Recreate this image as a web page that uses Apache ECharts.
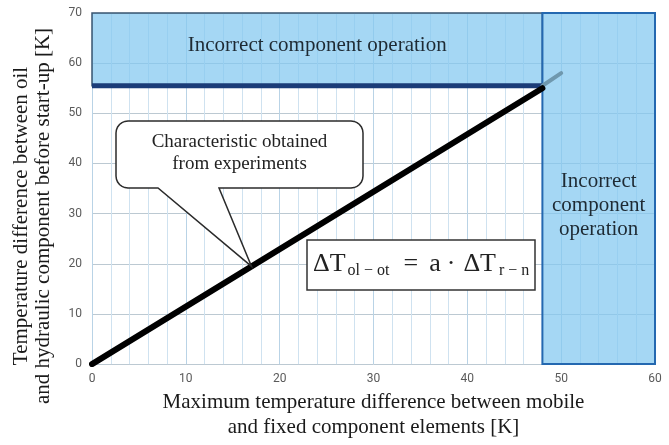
<!DOCTYPE html>
<html>
<head>
<meta charset="utf-8">
<script src="https://cdn.jsdelivr.net/npm/echarts@6/dist/echarts.min.js"></script>
<style>
html,body{margin:0;padding:0;background:#fff;}
#c{width:669px;height:445px;}
</style>
</head>
<body>
<div id="c"></div>
<script>
// ---- data ----
var xTicks = [0, 10, 20, 30, 40, 50, 60];
var yTicks = [0, 10, 20, 30, 40, 50, 60, 70];
var experimentLine = [[0, 0], [48, 55]];
var extensionLine = [[48, 55.5], [50, 58]];
var limitLine = [[0, 55.5], [48, 55.5]];
var zoneTop = [[0, 55.5], [48, 70]];
var zoneRight = [[48, 0], [60, 70]];
var zoneTopLabel = 'Incorrect component operation';
var zoneRightLabel = 'Incorrect\ncomponent\noperation';
var calloutText = 'Characteristic obtained\nfrom experiments';
var calloutPoint = [17, 17 * 55 / 48];
var xName = 'Maximum temperature difference between mobile\nand fixed component elements [K]';
var yName = 'Temperature difference between oil\nand hydraulic component before start-up [K]';

var serif = '"Liberation Serif", "Times New Roman", serif';
var sans = 'Roboto, "Open Sans", sans-serif';
var chart = echarts.init(document.getElementById('c'), null, {renderer: 'canvas'});

var option = {
  animation: false,
  backgroundColor: '#ffffff',
  grid: {left: 92, right: 14, top: 13, bottom: 80},
  xAxis: {
    type: 'value', min: xTicks[0], max: xTicks[xTicks.length - 1], interval: 10,
    axisLine: {show: false}, axisTick: {show: false},
    axisLabel: {color: '#5a5a5a', fontFamily: sans, fontSize: 12, margin: 9},
    splitLine: {show: true, lineStyle: {color: '#b9d3e6', width: 1}},
    minorTick: {show: false, splitNumber: 5},
    minorSplitLine: {show: true, lineStyle: {color: '#cfe2f0', width: 1}},
    name: xName, nameLocation: 'middle', nameGap: 25,
    nameTextStyle: {fontFamily: serif, fontSize: 21, color: '#1a1a1a', lineHeight: 25}
  },
  yAxis: {
    type: 'value', min: yTicks[0], max: yTicks[yTicks.length - 1], interval: 10,
    axisLine: {show: false}, axisTick: {show: false},
    axisLabel: {color: '#5a5a5a', fontFamily: sans, fontSize: 12, margin: 10},
    splitLine: {show: true, lineStyle: {color: '#bcc9d2', width: 1}}
  },
  series: [
    {
      type: 'line', data: [], silent: true, z: 1,
      markArea: {
        silent: true,
        data: [
          [{coord: zoneTop[0], itemStyle: {color: 'rgba(130,200,240,0.72)', borderColor: '#3a5570', borderWidth: 1.5},
            label: {show: true, position: 'inside', offset: [0, -4], formatter: zoneTopLabel,
              fontFamily: serif, fontSize: 21, color: '#1e2a33'}},
           {coord: zoneTop[1]}],
          [{coord: zoneRight[0], itemStyle: {color: 'rgba(130,200,240,0.72)', borderColor: '#2468b0', borderWidth: 2},
            label: {show: true, position: 'inside', offset: [0, 17], formatter: zoneRightLabel,
              fontFamily: serif, fontSize: 21, lineHeight: 24, color: '#1e2a33'}},
           {coord: zoneRight[1]}]
        ]
      }
    },
    {
      type: 'line', data: limitLine, symbol: 'none', silent: true, z: 3,
      lineStyle: {color: '#1b3c78', width: 5}
    },
    {
      type: 'line', data: extensionLine, symbol: 'none', silent: true, z: 3,
      lineStyle: {color: '#6f98ae', width: 4, cap: 'round'}
    },
    {
      type: 'line', data: experimentLine, symbol: 'none', silent: true, z: 4,
      lineStyle: {color: '#000000', width: 6, cap: 'round'}
    }
  ]
};
chart.setOption(option);

// callout bubble (rounded box with pointer) as polygon
var L = 116, T = 121, R = 363, B = 188, r = 12, x1 = 158, x2 = 219;
var tip = chart.convertToPixel({gridIndex: 0}, calloutPoint);
function arc(cx, cy, a0, a1, pts) {
  for (var i = 0; i <= 6; i++) {
    var a = a0 + (a1 - a0) * i / 6;
    pts.push([cx + r * Math.cos(a), cy + r * Math.sin(a)]);
  }
}
var pts = [];
arc(L + r, T + r, Math.PI, 1.5 * Math.PI, pts);
arc(R - r, T + r, 1.5 * Math.PI, 2 * Math.PI, pts);
arc(R - r, B - r, 0, 0.5 * Math.PI, pts);
pts.push([x2, B]); pts.push([tip[0], tip[1]]); pts.push([x1, B]);
arc(L + r, B - r, 0.5 * Math.PI, Math.PI, pts);

chart.setOption({
  graphic: [
    {type: 'polygon', shape: {points: pts}, style: {fill: '#ffffff', stroke: '#2b2b2b', lineWidth: 1.5}, z: 10},
    {type: 'text', x: (L + R) / 2, y: 153, z: 11,
      style: {text: calloutText, fontFamily: serif, fontSize: 19, lineHeight: 22, fill: '#222', align: 'center', verticalAlign: 'middle'}},
    {type: 'rect', shape: {x: 307, y: 240, width: 228, height: 50}, style: {fill: '#ffffff', stroke: '#333333', lineWidth: 1.5}, z: 10},
    {type: 'text', x: 313, y: 264, z: 11,
      style: {
        text: '{b|ΔT}{s|ol − ot}{e|=}{a|a}{d|·}{c|ΔT}{t|r − n}',
        verticalAlign: 'middle', align: 'left',
        rich: {
          b: {fontFamily: serif, fontSize: 26, fill: '#222', lineHeight: 34},
          s: {fontFamily: serif, fontSize: 16, fill: '#222', padding: [14, 0, 0, 2]},
          e: {fontFamily: serif, fontSize: 26, fill: '#222', padding: [0, 0, 0, 14]},
          a: {fontFamily: serif, fontSize: 26, fill: '#222', padding: [0, 0, 0, 11]},
          d: {fontFamily: serif, fontSize: 26, fill: '#222', padding: [0, 0, 0, 6]},
          c: {fontFamily: serif, fontSize: 26, fill: '#222', padding: [0, 0, 0, 8]},
          t: {fontFamily: serif, fontSize: 16, fill: '#222', padding: [14, 0, 0, 3]}
        }
      }},
    {type: 'text', x: 32, y: 216, rotation: Math.PI / 2, z: 11,
      style: {text: yName, fontFamily: serif, fontSize: 21, lineHeight: 22, fill: '#1a1a1a', align: 'center', verticalAlign: 'middle'}}
  ]
});
</script>
</body>
</html>
